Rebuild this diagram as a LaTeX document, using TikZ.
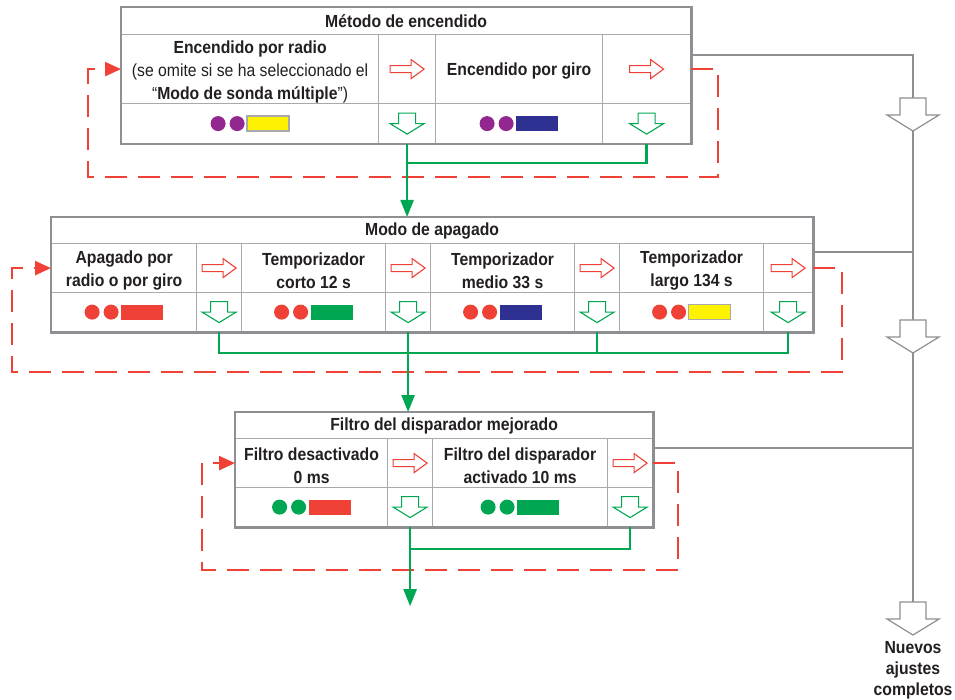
\documentclass[tikz,border=0pt]{standalone}
\usepackage{fontspec}
\setmainfont{Liberation Sans}[FakeStretch=0.9]
\usetikzlibrary{positioning,arrows.meta,calc}

\definecolor{gridgray}{HTML}{A7A9AC}
\definecolor{framegray}{HTML}{8E8F92}
\definecolor{txt}{HTML}{231F20}
\definecolor{ledred}{HTML}{EF4136}
\definecolor{ledgreen}{HTML}{00A651}
\definecolor{ledpurple}{HTML}{92278F}
\definecolor{ledblue}{HTML}{2E3192}
\definecolor{ledyellow}{HTML}{FFF200}

\tikzset{
  cell/.style={draw=gridgray, line width=1.2pt, anchor=north west, inner sep=2pt,
    align=center, text=txt, font=\fontsize{17.5pt}{23pt}\selectfont\bfseries},
  rowtext/.style={cell, draw=none, inner sep=0pt, anchor=center},
  frame/.style={draw=framegray, line width=2.6pt},
  loopback/.style={draw=ledred, line width=2.4pt, dash pattern=on 22pt off 11pt,
    -{Triangle[length=16pt,width=14pt]}},
  flow/.style={draw=ledgreen, line width=2.4pt},
  flowarrow/.style={-{Triangle[length=17pt,width=13pt]}},
  settings/.style={draw=framegray, line width=2.6pt},
  endlabel/.style={align=center, text=txt, inner sep=0pt,
    font=\fontsize{17.5pt}{21pt}\selectfont\bfseries},
  pics/nextarrow/.style={code={
    \draw[ledred, line width=1.1pt, fill=white] (-17,-3.5) -- (4,-3.5) -- (4,-9.5)
      -- (17,0) -- (4,9.5) -- (4,3.5) -- (-17,3.5) -- cycle;
  }},
  pics/nextdown/.style={code={
    \draw[ledgreen, line width=1.1pt, fill=white] (-8.5,-10.5) -- (8.5,-10.5) -- (8.5,0)
      -- (17,0) -- (0,10.5) -- (-17,0) -- (-8.5,0) -- cycle;
  }},
  pics/bigarrow/.style={code={
    \draw[framegray, line width=1.2pt, fill=white] (-13,0) -- (13,0) -- (13,17)
      -- (26,17) -- (0,33) -- (-26,17) -- (-13,17) -- cycle;
  }},
  pics/lights/.style 2 args={code={
    \fill[#1] (-32,0) circle (7.5);
    \fill[#1] (-13,0) circle (7.5);
    \path[#2] (-3,-7.5) rectangle (39,7.5);
  }}
}

\begin{document}
\begin{tikzpicture}[x=1pt, y=-1pt]
    \useasboundingbox (0,0) rectangle (955,700);

    % Metodo de encendido
    \node[cell, minimum width=569pt, minimum height=27pt] (enc) at (121,7) {Método de encendido};
    \node[cell, minimum width=257pt, minimum height=69pt] (encA) at (121,34) {};
    \node[cell, minimum width=57pt, minimum height=69pt] (encAr) at (378,34) {};
    \node[cell, minimum width=167pt, minimum height=69pt] (encB) at (435,34) {};
    \node[cell, minimum width=88pt, minimum height=69pt] (encBr) at (602,34) {};
    \node[cell, minimum width=257pt, minimum height=40pt] (encAl) at (121,103) {};
    \node[cell, minimum width=57pt, minimum height=40pt] (encAg) at (378,103) {};
    \node[cell, minimum width=167pt, minimum height=40pt] (encBl) at (435,103) {};
    \node[cell, minimum width=88pt, minimum height=40pt] (encBg) at (602,103) {};
    \draw[frame] (enc.north west) rectangle (encBg.south east);
    \node[rowtext] (encAtxt) at ([yshift=-2.5pt]encA.center)
        {Encendido por radio\\\textmd{(se omite si se ha seleccionado el}\\\textmd{“}Modo de sonda múltiple\textmd{”)}};
    \node[rowtext] (encBtxt) at ([yshift=-1.5pt]encB.center) {Encendido por giro};

    % Modo de apagado
    \node[cell, minimum width=761pt, minimum height=26pt] (apa) at (51,217) {Modo de apagado};
    \node[cell, minimum width=145pt, minimum height=49pt] (apaA) at (51,243) {};
    \node[cell, minimum width=45pt, minimum height=49pt] (apaAr) at (196,243) {};
    \node[cell, minimum width=144pt, minimum height=49pt] (apaB) at (241,243) {};
    \node[cell, minimum width=45pt, minimum height=49pt] (apaBr) at (385,243) {};
    \node[cell, minimum width=144pt, minimum height=49pt] (apaC) at (430,243) {};
    \node[cell, minimum width=45pt, minimum height=49pt] (apaCr) at (574,243) {};
    \node[cell, minimum width=144pt, minimum height=49pt] (apaD) at (619,243) {};
    \node[cell, minimum width=49pt, minimum height=49pt] (apaDr) at (763,243) {};
    \node[cell, minimum width=145pt, minimum height=39pt] (apaAl) at (51,292) {};
    \node[cell, minimum width=45pt, minimum height=39pt] (apaAg) at (196,292) {};
    \node[cell, minimum width=144pt, minimum height=39pt] (apaBl) at (241,292) {};
    \node[cell, minimum width=45pt, minimum height=39pt] (apaBg) at (385,292) {};
    \node[cell, minimum width=144pt, minimum height=39pt] (apaCl) at (430,292) {};
    \node[cell, minimum width=45pt, minimum height=39pt] (apaCg) at (574,292) {};
    \node[cell, minimum width=144pt, minimum height=39pt] (apaDl) at (619,292) {};
    \node[cell, minimum width=49pt, minimum height=39pt] (apaDg) at (763,292) {};
    \draw[frame] (apa.north west) rectangle (apaDg.south east);
    \node[rowtext] (apaAtxt) at ([yshift=-2.5pt]apaA.center) {Apagado por\\radio o por giro};
    \node[rowtext] (apaBtxt) at ([yshift=-2.5pt]apaB.center) {Temporizador\\corto 12 s};
    \node[rowtext] (apaCtxt) at ([yshift=-2.5pt]apaC.center) {Temporizador\\medio 33 s};
    \node[rowtext] (apaDtxt) at ([yshift=-2.5pt]apaD.center) {Temporizador\\largo 134 s};

    % Filtro del disparador mejorado
    \node[cell, minimum width=417pt, minimum height=26pt] (fil) at (235,412) {Filtro del disparador mejorado};
    \node[cell, minimum width=152pt, minimum height=49pt] (filA) at (235,438) {};
    \node[cell, minimum width=45pt, minimum height=49pt] (filAr) at (387,438) {};
    \node[cell, minimum width=175pt, minimum height=49pt] (filB) at (432,438) {};
    \node[cell, minimum width=45pt, minimum height=49pt] (filBr) at (607,438) {};
    \node[cell, minimum width=152pt, minimum height=39pt] (filAl) at (235,487) {};
    \node[cell, minimum width=45pt, minimum height=39pt] (filAg) at (387,487) {};
    \node[cell, minimum width=175pt, minimum height=39pt] (filBl) at (432,487) {};
    \node[cell, minimum width=45pt, minimum height=39pt] (filBg) at (607,487) {};
    \draw[frame] (fil.north west) rectangle (filBg.south east);
    \node[rowtext] (filAtxt) at ([yshift=-2.5pt]filA.center) {Filtro desactivado\\0 ms};
    \node[rowtext] (filBtxt) at ([yshift=-2.5pt]filB.center) {Filtro del disparador\\activado 10 ms};

    % Indicadores
    \pic at (encAl) {lights={ledpurple}{fill=ledyellow, draw=gridgray, line width=1.5pt}};
    \pic at (encBl) {lights={ledpurple}{fill=ledblue}};
    \pic at (apaAl) {lights={ledred}{fill=ledred}};
    \pic at (apaBl) {lights={ledred}{fill=ledgreen}};
    \pic at (apaCl) {lights={ledred}{fill=ledblue}};
    \pic at (apaDl) {lights={ledred}{fill=ledyellow, draw=gridgray, line width=1.5pt}};
    \pic at (filAl) {lights={ledgreen}{fill=ledred}};
    \pic at (filBl) {lights={ledgreen}{fill=ledgreen}};

    % Flechas huecas
    \foreach \c in {encAr,encBr,apaAr,apaBr,apaCr,apaDr,filAr,filBr}
        \pic at (\c) {nextarrow};
    \foreach \c in {encAg,encBg,apaAg,apaBg,apaCg,apaDg,filAg,filBg}
        \pic at (\c) {nextdown};

    % Vuelta al primer ajuste
    \draw[loopback] (encBr.east) -- ++(27,0) -- ++(0,108) -| ([xshift=-33pt]encA.west) -- (encA.west);
    \draw[loopback] (apaDr.east) -- ++(29,0) -- ++(0,104) -| ([xshift=-39pt]apaA.west) -- (apaA.west);
    \draw[loopback] (filBr.east) -- ++(25,0) -- ++(0,107) -| ([xshift=-33pt]filA.west) -- (filA.west);

    % Nuevos ajustes completos
    \coordinate (bus) at (913,602);
    \draw[settings] ([yshift=14pt]encBr.east) -| (bus);
    \draw[settings] ([yshift=16pt]apaDr.east) -| (bus);
    \draw[settings] ([yshift=15pt]filBr.east) -| (bus);
    \pic at (913,98) {bigarrow};
    \pic at (913,320) {bigarrow};
    \pic at (bus) {bigarrow};
    \node[endlabel, anchor=north] (nuevos) at ([yshift=-39pt]bus) {Nuevos\\ajustes\\completos};

    % Paso al siguiente ajuste
    \draw[flow] (encBg.south) -- ++(0,19) -| (encAg.south);
    \draw[flow, flowarrow] (encAg.south) -- (encAg.south |- apa.north);
    \draw[flow] (apaAg.south) -- ++(0,21) -| (apaDg.south);
    \draw[flow] (apaCg.south) -- ++(0,21);
    \draw[flow, flowarrow] (apaBg.south) -- (apaBg.south |- fil.north);
    \coordinate (salida) at ($(filAg.south)+(0,79)$);
    \draw[flow] (filBg.south) -- ++(0,22) -| (filAg.south);
    \draw[flow, flowarrow] (filAg.south) -- (salida);
\end{tikzpicture}
\end{document}
